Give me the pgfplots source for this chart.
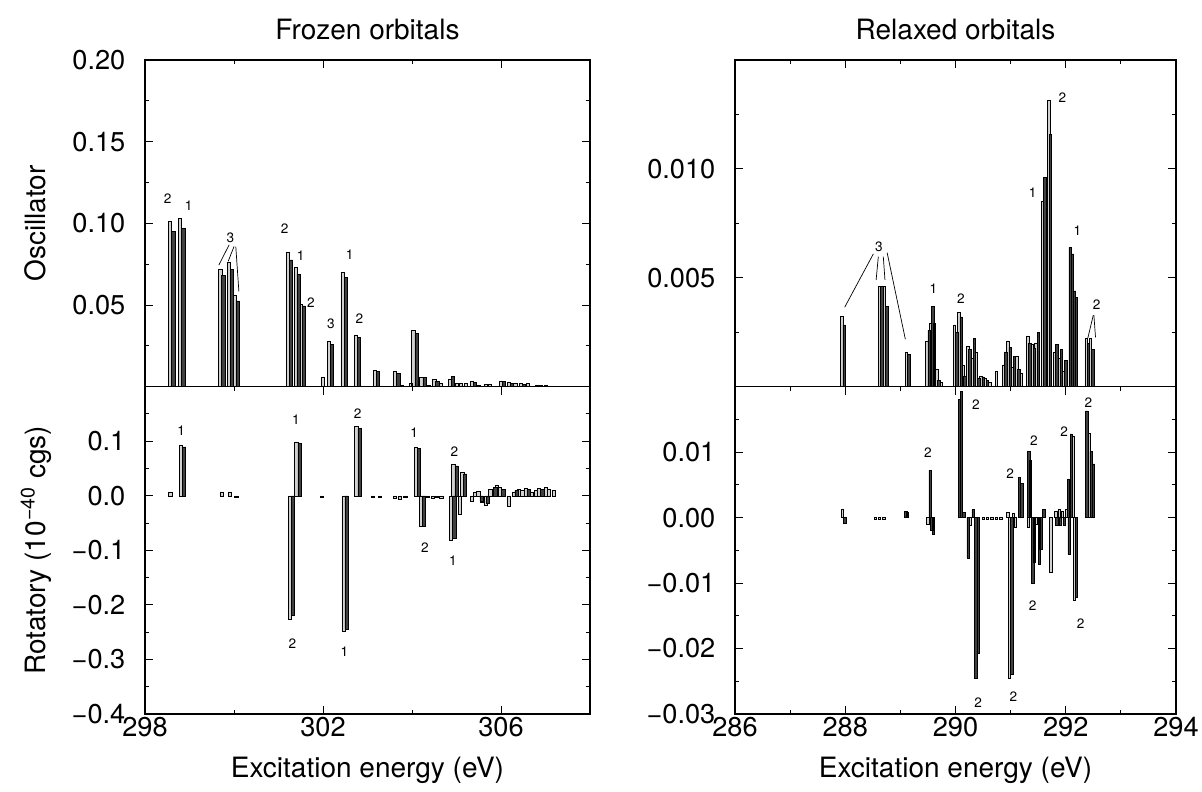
\documentclass[border=0pt]{standalone}
\usepackage{fontspec}
\setmainfont{TeX Gyre Heros}
\usepackage{pgfplots}
\pgfplotsset{compat=1.18}
\tikzset{lab/.style={font=\fontsize{6.8}{7}\selectfont, inner sep=0pt}}
\begin{document}
\begin{tikzpicture}
\useasboundingbox (0pt,0pt) rectangle (601pt,395.5pt);
\pgfplotsset{
  panel/.style={scale only axis, anchor=south west,
    axis line style={line width=0.6pt},
    tick style={black, line width=0.5pt},
    major tick length=4pt, minor tick length=2pt,
    tick align=inside, scaled ticks=false,
    ticklabel style={font=\fontsize{13.6}{15}\selectfont},
    yticklabel style={xshift=-6.3pt},
    xticklabel style={yshift=1.8pt},
  },
  light/.style={ybar, bar shift=0pt, fill=black!18, draw=black, line width=0.3pt},
  dark/.style={ybar, bar shift=0pt, fill=black!75, draw=black, line width=0.3pt},
}
% ---------------- Frozen, oscillator ----------------
\begin{axis}[panel, at={(72.5pt,202.15pt)}, width=222.5pt, height=163.35pt,
  xmin=298, xmax=308, ymin=0, ymax=0.2,
  xtick={298,302,306}, minor xtick={300,304}, xtick pos=right, xticklabels={},
  ytick={0.05,0.1,0.15,0.2}, yticklabels={0.05,0.10,0.15,0.20},
  minor ytick={0.025,0.075,0.125,0.175}]
\addplot[light, bar width=1.6pt] table {
x y
298.565 0.101
298.79 0.103
299.69 0.072
299.88 0.076
300.01 0.0557
301.21 0.0823
301.38 0.0731
301.50 0.0505
301.99 0.006
302.13 0.028
302.44 0.070
302.74 0.0317
303.17 0.0098
303.62 0.0092
303.76 0.001
303.97 0.002
304.03 0.0343
304.21 0.0057
304.38 0.001
304.50 0.0045
304.64 0.002
304.85 0.0045
305.00 0.002
305.10 0.0022
305.20 0.002
305.35 0.003
305.50 0.001
305.65 0.0015
305.75 0.0015
306.00 0.0035
306.18 0.0025
306.32 0.002
306.45 0.002
306.60 0.002
306.80 0.0008
307.00 0.0008
307.15 0.0005
};
\addplot[dark, bar width=1.6pt] table {
x y
298.635 0.0953
298.86 0.0969
299.76 0.068
299.95 0.072
300.08 0.0525
301.28 0.0776
301.45 0.0688
301.57 0.0495
302.20 0.026
302.51 0.0668
302.81 0.0302
303.24 0.0092
303.69 0.0082
304.10 0.0327
304.28 0.0057
304.57 0.003
304.92 0.0065
305.42 0.0025
306.07 0.003
306.25 0.002
306.52 0.0015
306.90 0.0006
};
\node[lab] at (axis cs:298.51,0.115) {2};
\node[lab] at (axis cs:298.98,0.111) {1};
\node[lab] at (axis cs:299.92,0.0913) {3};
\draw[line width=0.35pt] (axis cs:299.89,0.0868) -- (axis cs:299.66,0.0745);
\draw[line width=0.35pt] (axis cs:300.00,0.0858) -- (axis cs:299.87,0.0768);
\draw[line width=0.35pt] (axis cs:300.04,0.0858) -- (axis cs:300.11,0.0582);
\node[lab] at (axis cs:301.14,0.097) {2};
\node[lab] at (axis cs:301.50,0.080) {1};
\node[lab] at (axis cs:301.73,0.0517) {2};
\node[lab] at (axis cs:302.18,0.0388) {3};
\node[lab] at (axis cs:302.60,0.081) {1};
\node[lab] at (axis cs:302.82,0.0419) {2};
\end{axis}
% ---------------- Frozen, rotatory ----------------
\begin{axis}[panel, at={(72.5pt,38.5pt)}, width=222.5pt, height=163.65pt,
  xmin=298, xmax=308, ymin=-0.4, ymax=0.2,
  xtick={298,302,306}, minor xtick={300,304}, xticklabels={298,302,306},
  ytick={-0.4,-0.3,-0.2,-0.1,0,0.1}, yticklabels={−0.4,−0.3,−0.2,−0.1,0.0,0.1},
  minor ytick={-0.35,-0.25,-0.15,-0.05,0.05,0.15}]
\addplot[light, bar width=1.6pt] table {
x y
298.57 0.007
298.81 0.0927
299.72 0.007
299.90 0.007
300.05 -0.002
301.25 -0.2268
301.40 0.0988
301.98 -0.002
302.46 -0.248
302.75 0.1268
303.12 -0.002
303.28 -0.002
303.62 -0.004
303.72 -0.006
303.85 -0.003
304.09 0.0896
304.21 -0.0567
304.36 -0.003
304.46 -0.004
304.56 -0.002
304.66 -0.005
304.88 -0.081
304.93 0.058
305.07 -0.0348
305.13 0.0427
305.34 -0.010
305.42 0.006
305.49 0.009
305.58 -0.012
305.65 -0.018
305.76 0.012
305.84 0.010
305.91 0.020
305.98 0.015
306.17 -0.020
306.29 0.007
306.40 0.012
306.48 0.010
306.55 0.014
306.70 0.006
306.78 0.010
306.85 0.014
307.00 0.016
307.08 0.012
307.19 0.010
};
\addplot[dark, bar width=1.6pt] table {
x y
298.88 0.0897
301.32 -0.2195
301.47 0.0966
302.53 -0.244
302.82 0.1232
304.16 0.0866
304.27 -0.0560
304.95 -0.078
305.00 0.055
305.19 0.040
305.56 -0.010
305.70 -0.014
305.87 0.015
306.05 0.012
306.35 0.010
306.62 0.012
306.93 0.012
};
\node[lab] at (axis cs:298.81,0.120) {1};
\node[lab] at (axis cs:301.39,0.139) {1};
\node[lab] at (axis cs:301.31,-0.271) {2};
\node[lab] at (axis cs:302.48,-0.285) {1};
\node[lab] at (axis cs:302.78,0.151) {2};
\node[lab] at (axis cs:304.05,0.116) {1};
\node[lab] at (axis cs:304.29,-0.096) {2};
\node[lab] at (axis cs:304.95,0.081) {2};
\node[lab] at (axis cs:304.92,-0.119) {1};
\end{axis}
% ---------------- Relaxed, oscillator ----------------
\begin{axis}[panel, at={(367.5pt,202.15pt)}, width=220.5pt, height=163.35pt,
  xmin=286, xmax=294, ymin=0, ymax=0.015,
  xtick={286,288,290,292,294}, minor xtick={287,289,291,293}, xtick pos=right, xticklabels={},
  ytick={0.005,0.01}, yticklabels={0.005,0.010},
  minor ytick={0.0025,0.0075,0.0125}]
\addplot[light, bar width=1.2pt] table {
x y
287.94 0.00322
288.62 0.0046
288.71 0.0046
289.11 0.0016
289.48 0.0021
289.55 0.0029
289.66 0.0008
289.73 0.0002
289.98 0.00282
290.06 0.00342
290.13 0.0010
290.22 0.00184
290.30 0.0013
290.38 0.0016
290.46 0.0005
290.54 0.0004
290.62 0.0002
290.74 0.0007
290.87 0.0010
290.95 0.0021
291.03 0.0009
291.11 0.0014
291.19 0.0006
291.31 0.00233
291.39 0.00195
291.46 0.0020
291.58 0.0085
291.69 0.01313
291.80 0.0016
291.88 0.0013
291.96 0.0007
292.37 0.0022
292.45 0.0022
};
\addplot[dark, bar width=1.2pt] table {
x y
287.98 0.00284
288.66 0.0046
288.75 0.0037
289.15 0.00147
289.52 0.0026
289.59 0.0037
289.62 0.0029
289.70 0.0003
290.02 0.0025
290.10 0.0032
290.17 0.0005
290.26 0.00172
290.34 0.0022
290.42 0.0004
290.50 0.00045
290.58 0.0003
290.91 0.0016
290.99 0.0018
291.07 0.0014
291.15 0.0008
291.35 0.0020
291.43 0.00175
291.50 0.0025
291.62 0.00962
291.72 0.0116
291.84 0.00195
291.92 0.0017
292.00 0.0012
292.08 0.0064
292.12 0.0061
292.16 0.0044
292.19 0.0041
292.41 0.0020
292.49 0.0017
};
\node[lab] at (axis cs:288.61,0.00643) {3};
\draw[line width=0.35pt] (axis cs:288.51,0.0061) -- (axis cs:287.99,0.00365);
\draw[line width=0.35pt] (axis cs:288.60,0.00597) -- (axis cs:288.56,0.0049);
\draw[line width=0.35pt] (axis cs:288.69,0.00597) -- (axis cs:288.72,0.0049);
\draw[line width=0.35pt] (axis cs:288.76,0.00615) -- (axis cs:289.09,0.00218);
\node[lab] at (axis cs:289.60,0.00449) {1};
\node[lab] at (axis cs:290.10,0.00406) {2};
\node[lab] at (axis cs:291.40,0.00892) {1};
\node[lab] at (axis cs:291.94,0.01328) {2};
\node[lab] at (axis cs:292.21,0.00716) {1};
\node[lab] at (axis cs:292.56,0.00375) {2};
\draw[line width=0.35pt] (axis cs:292.50,0.00329) -- (axis cs:292.40,0.00223);
\draw[line width=0.35pt] (axis cs:292.51,0.00329) -- (axis cs:292.54,0.00226);
\end{axis}
% ---------------- Relaxed, rotatory ----------------
\begin{axis}[panel, at={(367.5pt,38.5pt)}, width=220.5pt, height=163.65pt,
  xmin=286, xmax=294, ymin=-0.03, ymax=0.02,
  xtick={286,288,290,292,294}, minor xtick={287,289,291,293}, xticklabels={286,288,290,292,294},
  ytick={-0.03,-0.02,-0.01,0,0.01}, yticklabels={−0.03,−0.02,−0.01,0.00,0.01},
  minor ytick={-0.025,-0.015,-0.005,0.005,0.015}]
\addplot[light, bar width=1.2pt] table {
x y
287.95 0.0012
288.55 -0.0002
288.62 -0.0002
288.70 -0.0002
289.50 -0.00096
290.27 -0.0012
290.50 -0.0002
290.58 -0.0002
290.66 -0.0002
290.74 -0.0002
290.82 -0.0002
290.95 0.0008
290.98 -0.0246
291.05 0.0007
291.08 -0.0015
291.32 -0.0015
291.47 -0.0010
291.73 -0.0083
291.82 0.0009
291.88 0.0012
291.94 0.0010
292.02 0.0013
292.13 0.0125
292.16 -0.0126
292.42 0.0129
};
\addplot[dark, bar width=1.2pt] table {
x y
287.99 -0.0008
289.10 0.0009
289.13 0.0008
289.54 0.00726
289.57 -0.0020
289.60 -0.0025
290.07 0.0181
290.11 0.0193
290.15 0.0008
290.23 -0.00614
290.32 0.0012
290.37 -0.02455
290.41 -0.0207
291.02 -0.0240
291.16 0.0061
291.20 0.0052
291.33 0.0101
291.36 0.0087
291.40 -0.0101
291.43 -0.0068
291.52 -0.0072
291.55 -0.0048
291.60 0.0013
291.84 -0.0012
291.90 -0.0012
291.97 -0.0012
292.05 0.0059
292.06 -0.0056
292.10 0.0128
292.19 -0.0121
292.38 0.0163
292.46 0.0101
292.50 0.0082
};
\node[lab] at (axis cs:289.50,0.00985) {2};
\node[lab] at (axis cs:290.37,0.0172) {2};
\node[lab] at (axis cs:290.99,0.00675) {2};
\node[lab] at (axis cs:291.42,0.0117) {2};
\node[lab] at (axis cs:291.97,0.0131) {2};
\node[lab] at (axis cs:292.41,0.01755) {2};
\node[lab] at (axis cs:291.40,-0.0134) {2};
\node[lab] at (axis cs:292.27,-0.0162) {2};
\node[lab] at (axis cs:290.41,-0.0283) {2};
\node[lab] at (axis cs:291.05,-0.0273) {2};
\end{axis}
% ---------------- titles and labels ----------------
\node[anchor=base, font=\fontsize{14}{16}\selectfont] at (183.75pt,375.5pt) {Frozen orbitals};
\node[anchor=base, font=\fontsize{14}{16}\selectfont] at (477.75pt,375.5pt) {Relaxed orbitals};
\node[anchor=base, font=\fontsize{14}{16}\selectfont] at (183.75pt,7pt) {Excitation energy (eV)};
\node[anchor=base, font=\fontsize{14}{16}\selectfont] at (477.75pt,7pt) {Excitation energy (eV)};
\node[anchor=base, rotate=90, font=\fontsize{14}{16}\selectfont] at (22.5pt,283.8pt) {Oscillator};
\node[anchor=base, rotate=90, font=\fontsize{14}{16}\selectfont] at (22.5pt,120.3pt) {Rotatory (10\textsuperscript{−40} cgs)};
\end{tikzpicture}
\end{document}
